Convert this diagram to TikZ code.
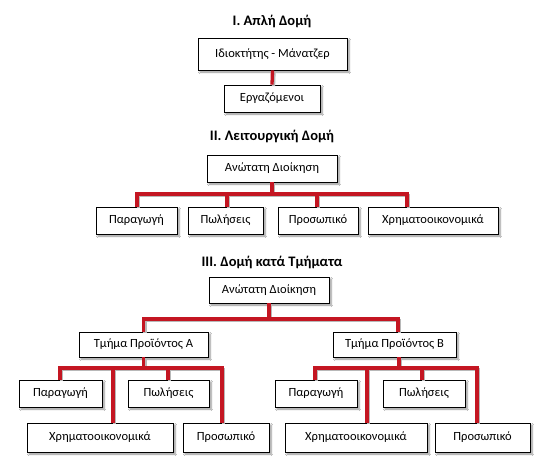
\documentclass[tikz,border=0pt]{standalone}
\usepackage{fontspec}
\setmainfont{Carlito}
\usetikzlibrary{calc,shadows.blur}
\definecolor{linkred}{RGB}{196,22,34}
\tikzset{
  box/.style={draw=black, line width=0.8pt, fill=white, inner sep=0pt,
    font=\fontsize{12.5}{14}\selectfont,
    blur shadow={shadow xshift=2pt, shadow yshift=-2pt, shadow blur steps=6, shadow opacity=45}},
  ttl/.style={font=\fontsize{14.5}{16}\selectfont\bfseries, inner sep=0pt},
  link/.style={draw=linkred, line width=3.3pt},
  linkshadow/.style={draw=black!28, line width=3.3pt, transform canvas={xshift=1.5pt, yshift=-1.5pt}}
}
\newcommand{\drawlinks}[1]{%
  \draw[#1] (a1.south) -- (a2.north);
  \foreach \c/\dx in {b1/0.5,b2/1.5,b3/-1,b4/-26}
    \draw[#1] (b0.south) -- (b0.south |- barII) -| ($(\c.north)+(\dx,0)$);
  \foreach \c/\dx in {cA/0,cB/3.5}
    \draw[#1] (c0.south) -- (c0.south |- barIII) -| ($(\c.north)+(\dx,0)$);
  \foreach \c/\dx in {pA1/-0.5,pA2/-0.5,pA3/13,pA4/-4}
    \draw[#1] (cA.south) -- (cA.south |- barA) -| ($(\c.north)+(\dx,0)$);
  \foreach \c/\dx in {pB1/-1,pB2/-2,pB3/11,pB4/-5.5}
    \draw[#1] ($(cB.south)+(4.5,0)$) -- ($(cB.south |- barB)+(4.5,0)$) -| ($(\c.north)+(\dx,0)$);
}
\begin{document}
\begin{tikzpicture}[x=1pt,y=-1pt]
\fill[white] (0,0) rectangle (538,471);
\useasboundingbox (0,0) rectangle (538,471);
\coordinate (barII) at (0,194);
\coordinate (barIII) at (0,319);
\coordinate (barA) at (0,368);
\coordinate (barB) at (0,368);
% I
\node[ttl] (t1) at (272,21) {I. Απλή Δομή};
\node[box, minimum width=149pt, minimum height=32pt] (a1) at (272.5,54) {Ιδιοκτήτης - Μάνατζερ};
\node[box, minimum width=96pt, minimum height=27pt] (a2) at (272,98.5) {Εργαζόμενοι};
% II
\node[ttl] (t2) at (272,136) {II. Λειτουργική Δομή};
\node[box, minimum width=130pt, minimum height=27pt] (b0) at (272,168.5) {Ανώτατη Διοίκηση};
\node[box, minimum width=81pt, minimum height=27pt] (b1) at (136.5,220.5) {Παραγωγή};
\node[box, minimum width=75pt, minimum height=27pt] (b2) at (225.5,220.5) {Πωλήσεις};
\node[box, minimum width=80pt, minimum height=27pt] (b3) at (318,220.5) {Προσωπικό};
\node[box, minimum width=130pt, minimum height=27pt] (b4) at (433,220.5) {Χρηματοοικονομικά};
% III
\node[ttl] (t3) at (272,262) {III. Δομή κατά Τμήματα};
\node[box, minimum width=120pt, minimum height=26pt] (c0) at (269,290) {Ανώτατη Διοίκηση};
\node[box, minimum width=129pt, minimum height=25pt] (cA) at (143.5,344.5) {Τμήμα Προϊόντος Α};
\node[box, minimum width=123pt, minimum height=25pt] (cB) at (394.5,344.5) {Τμήμα Προϊόντος Β};
\node[box, minimum width=83pt, minimum height=27pt] (pA1) at (60.5,393.5) {Παραγωγή};
\node[box, minimum width=81pt, minimum height=27pt] (pA2) at (168.5,393.5) {Πωλήσεις};
\node[box, minimum width=146pt, minimum height=29pt] (pA3) at (100,437.5) {Χρηματοοικονομικά};
\node[box, minimum width=86pt, minimum height=29pt] (pA4) at (226,437.5) {Προσωπικό};
\node[box, minimum width=82pt, minimum height=27pt] (pB1) at (316,393.5) {Παραγωγή};
\node[box, minimum width=82pt, minimum height=27pt] (pB2) at (424,393.5) {Πωλήσεις};
\node[box, minimum width=142pt, minimum height=29pt] (pB3) at (356,437.5) {Χρηματοοικονομικά};
\node[box, minimum width=95pt, minimum height=29pt] (pB4) at (482.5,437.5) {Προσωπικό};
\drawlinks{linkshadow}
\drawlinks{link}
\end{tikzpicture}
\end{document}
